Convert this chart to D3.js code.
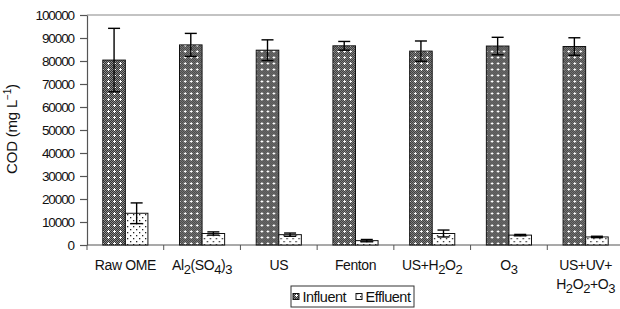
<!DOCTYPE html>
<html>
<head>
<meta charset="utf-8">
<script src="https://cdn.jsdelivr.net/npm/d3@7"></script>
<style>
  body { margin: 0; background: #fff; }
  text { font-family: "Liberation Sans", Arial, sans-serif; fill: #111; }
</style>
</head>
<body>
<div id="chart"></div>
<script>
// data
const categories = ["Raw OME", "Al2(SO4)3", "US", "Fenton", "US+H2O2", "O3", "US+UV+H2O2+O3"];
const series = ["Influent", "Effluent"];
const influent = [80400, 87000, 84700, 86600, 84300, 86500, 86300];
const influentErr = [13800, 5000, 4500, 1900, 4400, 3800, 3800];
const effluent = [13800, 5000, 4500, 1900, 5000, 4300, 3500];
const effluentErr = [4500, 700, 700, 500, 1500, 300, 300];
const yTicks = [0, 10000, 20000, 30000, 40000, 50000, 60000, 70000, 80000, 90000, 100000];

// label pieces: [text, isSubscript]
const labelParts = [
  [[["Raw OME", 0]]],
  [[["Al", 0], ["2", 1], ["(SO", 0], ["4", 1], [")", 0], ["3", 1]]],
  [[["US", 0]]],
  [[["Fenton", 0]]],
  [[["US+H", 0], ["2", 1], ["O", 0], ["2", 1]]],
  [[["O", 0], ["3", 1]]],
  [[["US+UV+", 0]], [["H", 0], ["2", 1], ["O", 0], ["2", 1], ["+O", 0], ["3", 1]]]
];

const svg = d3.select("#chart")
    .append("svg")
    .attr("width", 620)
    .attr("height", 309);

// patterns
const defs = svg.append("defs");
let pin = defs.append("pattern")
    .attr("id", "pinf")
    .attr("patternUnits", "userSpaceOnUse")
    .attr("width", 6).attr("height", 6);
pin.append("rect").attr("width", 6).attr("height", 6).attr("fill", "#8c8c8c");
for (let i = 0; i < 6; i++) {
  for (let j = 0; j < 6; j++) {
    if ((i + j) % 2 === 0) pin.append("rect").attr("x", i).attr("y", j).attr("width", 1).attr("height", 1).attr("fill", "#333");
  }
}
pin.append("rect").attr("x", 2).attr("y", 3).attr("width", 3).attr("height", 1).attr("fill", "#fff");
pin.append("rect").attr("x", 3).attr("y", 2).attr("width", 1).attr("height", 3).attr("fill", "#fff");

let pef = defs.append("pattern")
    .attr("id", "peff")
    .attr("patternUnits", "userSpaceOnUse")
    .attr("width", 6).attr("height", 6);
pef.append("rect").attr("width", 6).attr("height", 6).attr("fill", "#fff");
pef.append("rect").attr("x", 1).attr("y", 1).attr("width", 1.3).attr("height", 1.3).attr("fill", "#222");
pef.append("rect").attr("x", 4).attr("y", 4).attr("width", 1.3).attr("height", 1.3).attr("fill", "#222");

const fills = { Influent: "url(#pinf)", Effluent: "url(#peff)" };

// scales
const x0 = d3.scaleBand()
    .domain(categories)
    .range([87, 624]);
const x1 = d3.scaleBand()
    .domain(series)
    .range([0, x0.bandwidth()])
    .paddingOuter(0.7);
const y = d3.scaleLinear()
    .domain([0, 100000])
    .range([245, 15]);

// frame top line
svg.append("line")
    .attr("x1", 87).attr("x2", 620)
    .attr("y1", y(100000)).attr("y2", y(100000))
    .attr("stroke", "#888").attr("stroke-width", 1.2);

// Y axis
const yAxis = svg.append("g")
    .attr("transform", "translate(87,0)")
    .call(d3.axisLeft(y).tickValues(yTicks).tickSize(7).tickSizeOuter(0).tickFormat(d3.format("d")));
yAxis.select(".domain").attr("stroke", "#555").attr("stroke-width", 1.2);
yAxis.selectAll(".tick line").attr("stroke", "#555").attr("stroke-width", 1.2);
yAxis.selectAll(".tick text")
    .attr("x", -13)
    .style("font-size", "13.5px")
    .style("letter-spacing", "-1.1px")
    .style("font-family", "Liberation Sans, Arial, sans-serif")
    .attr("fill", "#111");

// X axis line and category ticks
svg.append("line")
    .attr("x1", 87).attr("x2", 620)
    .attr("y1", y(0)).attr("y2", y(0))
    .attr("stroke", "#555").attr("stroke-width", 1.2);
svg.append("g").selectAll("line")
    .data(categories)
    .enter().append("line")
    .attr("x1", d => x0(d)).attr("x2", d => x0(d))
    .attr("y1", y(0)).attr("y2", y(0) + 5)
    .attr("stroke", "#555");

// Y title
svg.append("text")
    .attr("transform", "translate(17,129) rotate(-90)")
    .attr("text-anchor", "middle")
    .style("font-size", "15px")
    .style("letter-spacing", "-0.2px")
    .html("COD (mg L<tspan dy='-6' font-size='10'>−1</tspan><tspan dy='6'>)</tspan>");

// bars
const rows = categories.map((c, i) => ({
  cat: c,
  vals: [
    { s: "Influent", v: influent[i], e: influentErr[i] },
    { s: "Effluent", v: effluent[i], e: effluentErr[i] }
  ]
}));

const groups = svg.append("g").selectAll("g")
    .data(rows)
    .enter().append("g")
    .attr("transform", d => "translate(" + x0(d.cat) + ",0)");

groups.selectAll("rect")
    .data(d => d.vals)
    .enter().append("rect")
    .attr("x", d => x1(d.s))
    .attr("y", d => y(d.v))
    .attr("width", x1.bandwidth())
    .attr("height", d => y(0) - y(d.v))
    .attr("fill", d => fills[d.s])
    .attr("stroke", "#111")
    .attr("stroke-width", 1);

// error bars
const eb = groups.selectAll(".err")
    .data(d => d.vals)
    .enter().append("g")
    .attr("class", "err");
eb.append("line")
    .attr("x1", d => x1(d.s) + x1.bandwidth() / 2)
    .attr("x2", d => x1(d.s) + x1.bandwidth() / 2)
    .attr("y1", d => y(d.v + d.e))
    .attr("y2", d => y(d.v - d.e))
    .attr("stroke", "#000").attr("stroke-width", 1.4);
[1, -1].forEach(sign => {
  eb.append("line")
      .attr("x1", d => x1(d.s) + x1.bandwidth() / 2 - 6)
      .attr("x2", d => x1(d.s) + x1.bandwidth() / 2 + 6)
      .attr("y1", d => y(d.v + sign * d.e))
      .attr("y2", d => y(d.v + sign * d.e))
      .attr("stroke", "#000").attr("stroke-width", 1.4);
});

// category labels with subscripts
const lab = svg.append("g").selectAll("text")
    .data(categories)
    .enter().append("text")
    .attr("text-anchor", "middle")
    .style("font-size", "14px")
    .style("letter-spacing", "-0.4px");
lab.each(function(d, i) {
  const t = d3.select(this);
  const cx = x0(d) + x0.bandwidth() / 2;
  labelParts[i].forEach((line, li) => {
    line.forEach((p, pi) => {
      const ts = t.append("tspan").text(p[0]);
      if (pi === 0) ts.attr("x", cx).attr("y", 270 + li * 19);
      if (p[1]) ts.attr("dy", 4).style("font-size", "13px");
      else if (pi > 0 && line[pi - 1][1]) ts.attr("dy", -4);
    });
  });
});

// legend
const lg = svg.append("g").attr("transform", "translate(291,286)");
lg.append("rect")
    .attr("width", 123).attr("height", 21)
    .attr("fill", "#fff").attr("stroke", "#333");
const li = lg.selectAll(".li")
    .data(series)
    .enter().append("g")
    .attr("transform", (d, i) => "translate(" + (2 + i * 63) + ",0)");
li.append("rect")
    .attr("x", 0).attr("y", 7.5)
    .attr("width", 6).attr("height", 6)
    .attr("fill", d => fills[d])
    .attr("stroke", "#111");
li.append("text")
    .attr("x", 9.5).attr("y", 15.5)
    .style("font-size", "14.5px")
    .style("letter-spacing", "-0.5px")
    .text(d => d);
</script>
</body>
</html>
